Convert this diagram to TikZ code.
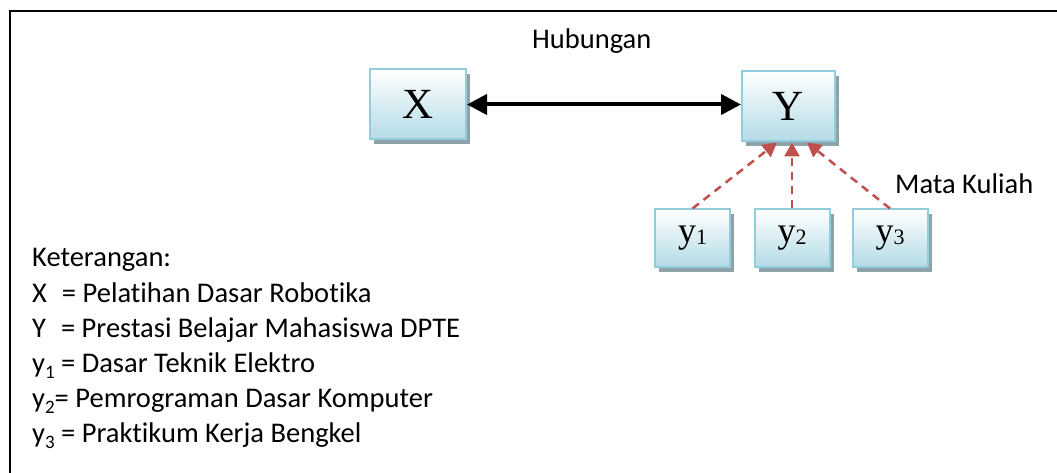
\documentclass[tikz,border=0pt]{standalone}
\usepackage{fontspec}
\setmainfont{Carlito}[Ligatures=NoCommon]
\newfontfamily\tnr{Liberation Serif}
\usetikzlibrary{arrows.meta,shadows}
\definecolor{boxborder}{HTML}{93CDDD}
\definecolor{boxbottom}{HTML}{B3DBE6}
\definecolor{shadowc}{HTML}{8EA3A9}
\definecolor{dashred}{HTML}{C0504D}
\tikzset{
  vbox/.style={rectangle, draw=boxborder, line width=2pt, top color=white, bottom color=boxbottom,
    inner sep=0pt, drop shadow={shadow xshift=4pt, shadow yshift=-5pt, fill=shadowc, opacity=1}},
  bigbox/.style={vbox, minimum width=96pt, minimum height=70pt, font=\tnr\fontsize{43}{43}\selectfont},
  smallbox/.style={vbox, minimum width=75pt, minimum height=57pt, font=\tnr\fontsize{36}{36}\selectfont},
  lbl/.style={inner sep=0pt, anchor=base west, font=\fontsize{28.5}{35}\selectfont},
  rel/.style={line width=4pt, {Triangle[length=20pt,width=20pt]}-{Triangle[length=20pt,width=20pt]}},
  ind/.style={draw=dashred, line width=2.5pt, dash pattern=on 8pt off 6pt, -{Triangle[length=14pt,width=15pt]}},
}
\newcommand{\ysub}[1]{y{\fontsize{22}{22}\selectfont\raisebox{-2pt}{#1}}}
\newcommand{\ksub}[1]{y{\fontsize{19}{19}\selectfont\raisebox{-6pt}{#1}}}
\begin{document}
\begin{tikzpicture}[x=1pt,y=-1pt]
\useasboundingbox (0,0) rectangle (1057,473);
\draw[line width=2pt] (10,473) -- (10,11.5) -- (1057,11.5);
\node[bigbox] (X) at (418,104.5) {X};
\node[bigbox, minimum width=93pt] (Y) at (788.5,106.5) {Y};
\node[smallbox] (y1) at (692.5,238) {\ysub{1}};
\node[smallbox] (y2) at (792,238) {\ysub{2}};
\node[smallbox] (y3) at (890,238) {\ysub{3}};
\draw[rel] (X.east) -- (X.east -| Y.west);
\draw[ind] (y1.north) -- ([xshift=-11.5pt]Y.south);
\draw[ind] (y2.north) -- (y2.north |- Y.south);
\draw[ind] (y3.north) -- ([xshift=18.5pt]Y.south);
\node[lbl] (hub) at (532,49) {Hubungan};
\node[lbl] (mk) at (895,194) {Mata Kuliah};
\node[lbl] (k0) at (32,266) {Keterangan:};
\node[lbl] (k1) at (32,302) {X\hspace{15pt}= Pelatihan Dasar Robotika};
\node[lbl] (k2) at (32,337) {Y\hspace{15pt}= Prestasi Belajar Mahasiswa DPTE};
\node[lbl] (k3) at (32,372) {\ksub{1} = Dasar Teknik Elektro};
\node[lbl] (k4) at (32,407) {\ksub{2}= Pemrograman Dasar Komputer};
\node[lbl] (k5) at (32,442) {\ksub{3} = Praktikum Kerja Bengkel};
\end{tikzpicture}
\end{document}
